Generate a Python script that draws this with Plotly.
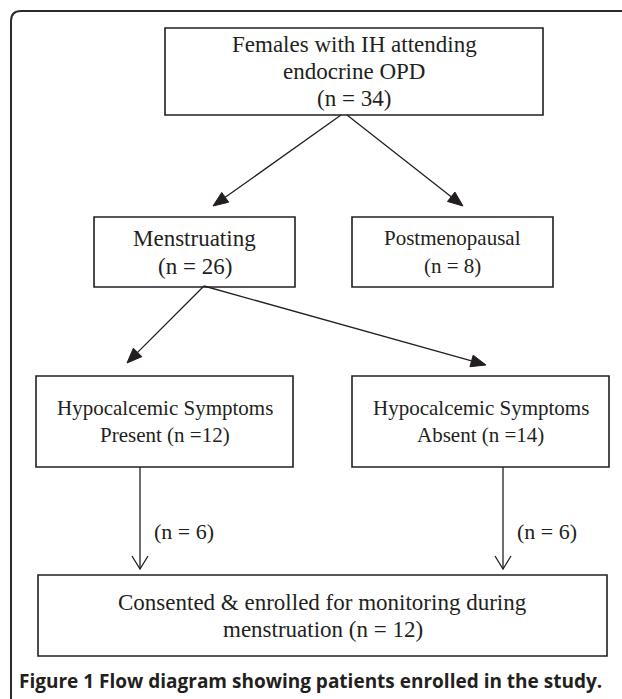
import plotly.graph_objects as go
import math

W, H = 622, 699

# ---------------- data ----------------
node_names = ["Females with IH attending endocrine OPD", "Menstruating", "Postmenopausal",
              "Hypocalcemic Symptoms Present", "Hypocalcemic Symptoms Absent",
              "Consented & enrolled for monitoring during menstruation"]
node_counts = [34, 26, 8, 12, 14, 12]
node_lines = [
    ["Females with IH attending", "endocrine OPD", f"(n = {node_counts[0]})"],
    ["Menstruating", f"(n = {node_counts[1]})"],
    ["Postmenopausal", f"(n = {node_counts[2]})"],
    ["Hypocalcemic Symptoms", f"Present (n ={node_counts[3]})"],
    ["Hypocalcemic Symptoms", f"Absent (n ={node_counts[4]})"],
    ["Consented & enrolled for monitoring during", f"menstruation (n = {node_counts[5]})"],
]
edge_from = [0, 0, 1, 1, 3, 4]
edge_to = [1, 2, 3, 4, 5, 5]
edge_counts = [None, None, None, None, 6, 6]
caption_bold = "Figure 1"
caption_text = "Flow diagram showing patients enrolled in the study."

# ---------------- layout (pixel geometry) ----------------
box_x0 = [165, 94, 352, 36, 352, 38]
box_x1 = [543, 295, 553, 293, 609, 607]
box_y0 = [28, 217, 217, 376, 376, 575]
box_y1 = [115, 287, 287, 467, 467, 656]
box_font = [23, 23, 21, 21, 21, 23]
line_gap = [27, 28, 28, 27, 27, 27]

edge_start = [(341, 115), (347, 115), (204, 286), (204, 286), (140, 467), (503, 467)]
edge_end = [(213, 206), (463, 206), (127, 363), (486, 365), (140, 569), (503, 569)]
edge_head = ["filled", "filled", "filled", "filled", "open", "open"]

INK = "#231f20"
SERIF = "Liberation Serif, Times New Roman, serif"

shapes = []
annotations = []

# outer frame (rounded top-left corner)
shapes.append(dict(type="path", xref="x", yref="y",
                   path="M 11 699 L 11 21 Q 11 11 21 11 L 622 11",
                   line=dict(color="#2b2b2b", width=2)))

# boxes + text
for i, lines in enumerate(node_lines):
    shapes.append(dict(type="rect", xref="x", yref="y",
                       x0=box_x0[i], x1=box_x1[i], y0=box_y0[i], y1=box_y1[i],
                       line=dict(color=INK, width=1.6), fillcolor="rgba(0,0,0,0)"))
    cx = (box_x0[i] + box_x1[i]) / 2
    cy = (box_y0[i] + box_y1[i]) / 2
    n = len(lines)
    for k, t in enumerate(lines):
        annotations.append(dict(x=cx, y=cy + (k - (n - 1) / 2) * line_gap[i],
                                xref="x", yref="y", text=t, showarrow=False,
                                xanchor="center", yanchor="middle",
                                font=dict(family=SERIF, size=box_font[i], color=INK)))

# arrows
for j in range(len(edge_from)):
    (sx, sy), (ex, ey) = edge_start[j], edge_end[j]
    dx, dy = ex - sx, ey - sy
    L = math.hypot(dx, dy)
    ux, uy = dx / L, dy / L
    px, py = -uy, ux
    if edge_head[j] == "filled":
        hl, hw = 15, 6
        bx, by = ex - ux * hl, ey - uy * hl
        shapes.append(dict(type="line", xref="x", yref="y", x0=sx, y0=sy, x1=bx, y1=by,
                           line=dict(color=INK, width=1.3)))
        path = (f"M {ex} {ey} L {bx + px * hw} {by + py * hw} "
                f"L {bx - px * hw} {by - py * hw} Z")
        shapes.append(dict(type="path", xref="x", yref="y", path=path,
                           fillcolor=INK, line=dict(color=INK, width=1)))
    else:
        hl, hw = 13, 8
        bx, by = ex - ux * hl, ey - uy * hl
        shapes.append(dict(type="line", xref="x", yref="y", x0=sx, y0=sy, x1=ex, y1=ey,
                           line=dict(color=INK, width=1.3)))
        path = (f"M {bx + px * hw} {by + py * hw} L {ex} {ey} "
                f"L {bx - px * hw} {by - py * hw}")
        shapes.append(dict(type="path", xref="x", yref="y", path=path,
                           line=dict(color=INK, width=1.3)))
    if edge_counts[j] is not None:
        annotations.append(dict(x=sx + 12, y=(sy + ey) / 2 + 13, xref="x", yref="y",
                                text=f"(n = {edge_counts[j]})", showarrow=False,
                                xanchor="left", yanchor="middle",
                                font=dict(family=SERIF, size=22, color=INK)))

# caption
annotations.append(dict(x=17, y=681, xref="x", yref="y",
                        text=f"<b>{caption_bold} {caption_text}</b>", showarrow=False,
                        xanchor="left", yanchor="middle",
                        font=dict(family="Open Sans, Noto Sans, sans-serif", size=19, color=INK)))

fig = go.Figure()
fig.update_layout(
    width=W, height=H, margin=dict(l=0, r=0, t=0, b=0),
    paper_bgcolor="white", plot_bgcolor="white",
    xaxis=dict(range=[0, W], visible=False, fixedrange=True),
    yaxis=dict(range=[H, 0], visible=False, fixedrange=True),
    shapes=shapes, annotations=annotations, showlegend=False,
)
fig.write_html("out.html", config={"displayModeBar": False},
               post_script="document.body.style.margin='0';")
